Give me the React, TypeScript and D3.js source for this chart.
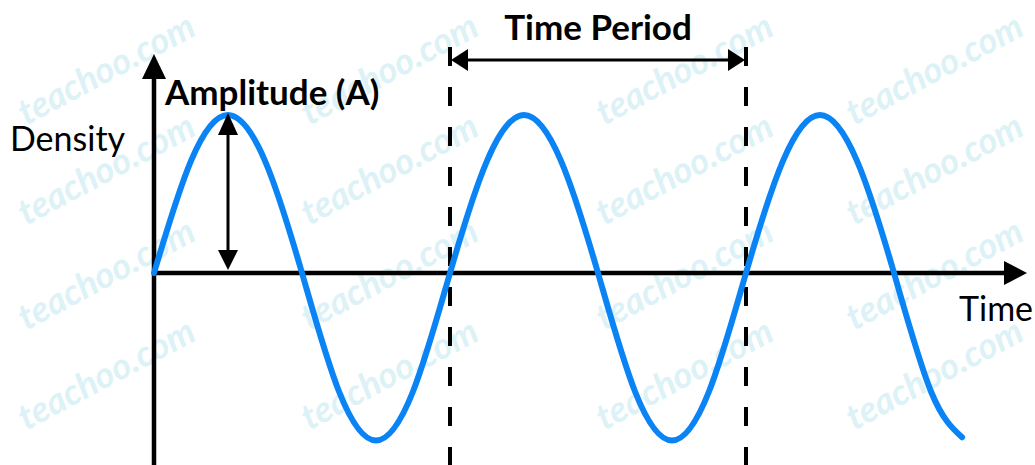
import React from 'react';
import * as d3 from 'd3';

// time in periods, density (peaks ~1, troughs a bit deeper)
const timeValues = [
  0, 0.125, 0.25, 0.375, 0.5, 0.625, 0.75, 0.875,
  1, 1.125, 1.25, 1.375, 1.5, 1.625, 1.75, 1.875,
  2, 2.125, 2.25, 2.375, 2.5, 2.625, 2.73,
];
const densityValues = [
  0, 0.71, 1, 0.71, 0, -0.75, -1.06, -0.75,
  0, 0.71, 1, 0.71, 0, -0.75, -1.06, -0.75,
  0, 0.71, 1, 0.71, 0, -0.75, -1.04,
];
const periodMarks = [1, 2];
const amplitudeAt = 0.25;
const labels = { period: 'Time Period', amplitude: 'Amplitude (A)', yTitle: 'Density', xTitle: 'Time' };
const watermarkX = [112, 395, 690, 940];
const watermarkY = [80, 180, 285, 385];

const W = 1035;
const H = 465;

const App = () => {
  const x = d3.scaleLinear().domain([0, 1]).range([154, 450]);
  const y = d3.scaleLinear().domain([-1, 1]).range([431, 115]);
  const y0 = y(0);
  const x0 = x(0);

  const points = timeValues.map((t, i) => ({ t, v: densityValues[i] }));
  const line = d3.line<{ t: number; v: number }>()
    .x(d => x(d.t))
    .y(d => y(d.v))
    .curve(d3.curveNatural);

  const tri = (tipX: number, tipY: number, dir: 'up' | 'down' | 'left' | 'right', len: number, half: number) => {
    if (dir === 'up') return `M${tipX},${tipY}L${tipX - half},${tipY + len}L${tipX + half},${tipY + len}Z`;
    if (dir === 'down') return `M${tipX},${tipY}L${tipX - half},${tipY - len}L${tipX + half},${tipY - len}Z`;
    if (dir === 'left') return `M${tipX},${tipY}L${tipX + len},${tipY - half}L${tipX + len},${tipY + half}Z`;
    return `M${tipX},${tipY}L${tipX - len},${tipY - half}L${tipX - len},${tipY + half}Z`;
  };

  const pLeft = x(periodMarks[0]);
  const pRight = x(periodMarks[1]);
  const ax = x(amplitudeAt);
  const font = 'Lato, "Open Sans", sans-serif';

  return (
    <svg width={W} height={H} style={{ position: 'absolute', left: 0, top: 0, background: '#fff' }}>
      <g fill="#dcf2f7" fontFamily={font} fontWeight="bold" fontStyle="italic" fontSize={36}>
        {watermarkY.map(wy => watermarkX.map(wx => (
          <text key={`${wx}-${wy}`} x={wx} y={wy} textAnchor="middle" transform={`rotate(-28 ${wx} ${wy})`}>teachoo.com</text>
        )))}
      </g>

      {/* dashed period markers */}
      {periodMarks.map(p => (
        <line key={p} x1={x(p)} x2={x(p)} y1={47} y2={H} stroke="#000" strokeWidth={4} strokeDasharray="19 21" />
      ))}

      {/* axes */}
      <line x1={x0} x2={x0} y1={H} y2={78} stroke="#000" strokeWidth={4.5} />
      <path d={tri(x0, 54, 'up', 25, 12)} fill="#000" />
      <line x1={x0} x2={1006} y1={y0} y2={y0} stroke="#000" strokeWidth={4.5} />
      <path d={tri(1027, y0, 'right', 23, 12)} fill="#000" />

      {/* wave */}
      <path d={line(points) || ''} fill="none" stroke="#0a84f5" strokeWidth={6} strokeLinecap="round" />

      {/* time period arrow */}
      <line x1={pLeft + 10} x2={pRight - 10} y1={60} y2={60} stroke="#000" strokeWidth={3} />
      <path d={tri(pLeft + 1, 60, 'left', 17, 11)} fill="#000" />
      <path d={tri(pRight - 1, 60, 'right', 17, 11)} fill="#000" />

      {/* amplitude arrow */}
      <line x1={ax} x2={ax} y1={y(1) + 10} y2={y0 - 10} stroke="#000" strokeWidth={3} />
      <path d={tri(ax, y(1) - 2, 'up', 22, 10)} fill="#000" />
      <path d={tri(ax, y0 - 3, 'down', 20, 10)} fill="#000" />

      <g fontFamily={font} fill="#000">
        <text x={(pLeft + pRight) / 2} y={40} textAnchor="middle" fontWeight="bold" fontSize={35}>{labels.period}</text>
        <text x={165} y={105} fontWeight="bold" fontSize={35}>{labels.amplitude}</text>
        <text x={10} y={151} fontSize={34}>{labels.yTitle}</text>
        <text x={959} y={321} fontSize={34}>{labels.xTitle}</text>
      </g>
    </svg>
  );
};

export default App;
